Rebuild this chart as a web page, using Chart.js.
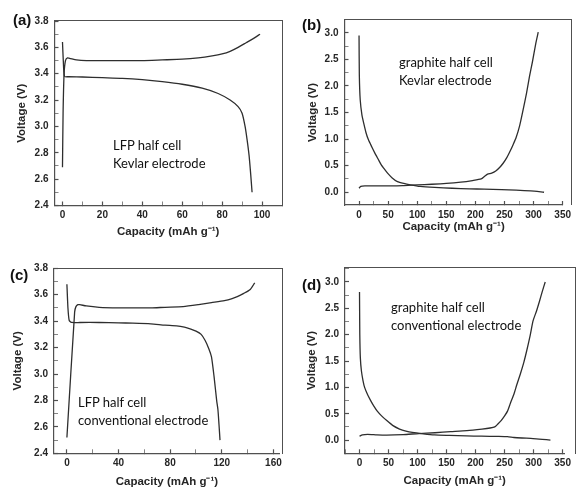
<!DOCTYPE html>
<html>
<head>
<meta charset="utf-8">
<script src="https://cdn.jsdelivr.net/npm/chart.js@4/dist/chart.umd.min.js"></script>
<style>
  body { margin: 0; background: #fff; }
  #page { position: relative; width: 579px; height: 488px; overflow: hidden; background: #fff; }
  canvas { position: absolute; }
  .tag { position: absolute; font: bold 15px "Liberation Sans", Arial, sans-serif; color: #111; line-height: 1; }
  .note { position: absolute; font: 13px Lato, "Open Sans", sans-serif; color: #111; line-height: 18px; white-space: nowrap; }
  .frame { position: absolute; box-sizing: border-box; border-top: 1px solid #505050; border-right: 1px solid #505050; pointer-events: none; }
</style>
</head>
<body>
<div id="page">
  <canvas id="ga" width="290" height="244" style="left:0;top:0"></canvas>
  <canvas id="gb" width="289" height="244" style="left:290px;top:0"></canvas>
  <canvas id="gc" width="290" height="244" style="left:0;top:244px"></canvas>
  <canvas id="gd" width="289" height="244" style="left:290px;top:244px"></canvas>

  <div class="frame" style="left:54px;top:20px;width:229px;height:186px"></div>
  <div class="frame" style="left:344px;top:19px;width:228px;height:186px"></div>
  <div class="frame" style="left:54px;top:268px;width:229px;height:186px"></div>
  <div class="frame" style="left:345px;top:267px;width:231px;height:187px"></div>

  <div class="tag" style="left:13px;top:12px">(a)</div>
  <div class="tag" style="left:302px;top:17px">(b)</div>
  <div class="tag" style="left:10px;top:267px">(c)</div>
  <div class="tag" style="left:302px;top:277px">(d)</div>

  <div class="note" style="left:113px;top:136px">LFP half cell<br>Kevlar electrode</div>
  <div class="note" style="left:399px;top:53px">graphite half cell<br>Kevlar electrode</div>
  <div class="note" style="left:78px;top:393px">LFP half cell<br>conventional electrode</div>
  <div class="note" style="left:391px;top:298px">graphite half cell<br>conventional electrode</div>
</div>
<script>
// (a) LFP half cell, Kevlar electrode
var aChargeCap = [0, 0.3, 0.8, 1.5, 2.5, 4, 7, 12, 20, 30, 40, 50, 60, 68, 75, 80, 84, 88, 92, 96, 99];
var aChargeV = [2.69, 3.1, 3.40, 3.50, 3.52, 3.515, 3.505, 3.50, 3.50, 3.50, 3.50, 3.505, 3.51, 3.52, 3.535, 3.55, 3.57, 3.60, 3.635, 3.67, 3.70];
var aDischCap = [0, 0.4, 1, 3, 10, 20, 30, 40, 50, 60, 70, 78, 84, 88, 90, 91.5, 92.5, 93.5, 94.3, 95];
var aDischV = [3.64, 3.50, 3.38, 3.377, 3.375, 3.37, 3.365, 3.355, 3.34, 3.32, 3.29, 3.25, 3.20, 3.15, 3.10, 3.0, 2.9, 2.78, 2.64, 2.5];

// (b) graphite half cell, Kevlar electrode
var bDischCap = [0, 0.5, 2, 5, 8, 12, 16, 22, 27, 33, 38, 44, 49, 57, 66, 77, 88, 105, 130, 160, 190, 215, 245, 270, 295, 318];
var bDischV = [2.95, 2.2, 1.74, 1.45, 1.3, 1.12, 0.99, 0.85, 0.74, 0.62, 0.52, 0.43, 0.36, 0.27, 0.20, 0.165, 0.14, 0.11, 0.09, 0.075, 0.065, 0.057, 0.048, 0.04, 0.025, 0.0];
var bChargeCap = [0, 3, 10, 30, 50, 75, 100, 125, 150, 175, 195, 210, 216, 221, 228, 235, 242, 248, 254, 260, 265, 270, 276, 282, 288, 293, 298, 304, 308];
var bChargeV = [0.075, 0.11, 0.12, 0.12, 0.12, 0.125, 0.14, 0.15, 0.165, 0.19, 0.22, 0.25, 0.30, 0.34, 0.36, 0.40, 0.47, 0.55, 0.65, 0.78, 0.90, 1.03, 1.25, 1.55, 1.87, 2.18, 2.45, 2.81, 3.01];

// (c) LFP half cell, conventional electrode
var cChargeCap = [0, 6, 7, 8.5, 10, 15, 25, 40, 51, 65, 76, 90, 102, 112, 122, 128, 132, 137, 142, 145.5];
var cChargeV = [2.52, 3.47, 3.51, 3.525, 3.525, 3.515, 3.505, 3.50, 3.50, 3.50, 3.505, 3.51, 3.525, 3.54, 3.555, 3.57, 3.585, 3.61, 3.64, 3.69];
var cDischCap = [0, 0.8, 1.8, 3.8, 10, 25, 40, 51, 65, 76, 85, 91, 96, 100, 104, 107, 110, 112, 114, 116, 117, 117.8, 118.6];
var cDischV = [3.68, 3.5, 3.405, 3.39, 3.39, 3.39, 3.387, 3.385, 3.38, 3.37, 3.365, 3.355, 3.34, 3.325, 3.30, 3.255, 3.19, 3.13, 2.98, 2.80, 2.73, 2.62, 2.5];

// (d) graphite half cell, conventional electrode
var dDischCap = [0, 0.5, 1.5, 3.3, 6, 8.8, 14, 19.7, 25, 30.6, 38, 47, 57, 69, 80, 91, 110, 129, 155, 184, 210, 239, 255, 266, 280, 299, 315, 329];
var dDischV = [2.81, 2.0, 1.55, 1.31, 1.13, 1.0, 0.86, 0.74, 0.64, 0.55, 0.46, 0.37, 0.28, 0.21, 0.17, 0.145, 0.12, 0.10, 0.09, 0.08, 0.075, 0.07, 0.065, 0.05, 0.04, 0.03, 0.015, 0.0];
var dChargeCap = [0, 5, 14, 30, 47, 75, 102, 130, 157, 185, 211, 225, 233, 238, 244, 250, 255, 260, 266, 271, 277, 283, 288, 294, 299, 305, 310, 315, 320];
var dChargeV = [0.075, 0.10, 0.11, 0.10, 0.095, 0.105, 0.125, 0.14, 0.16, 0.18, 0.21, 0.23, 0.25, 0.30, 0.37, 0.46, 0.55, 0.70, 0.87, 1.05, 1.25, 1.47, 1.69, 1.98, 2.26, 2.45, 2.63, 2.82, 3.0];

// tick labels
var lfpCapTicks = [0, 20, 40, 60, 80, 100];
var lfpConvCapTicks = [0, 40, 80, 120, 160];
var graphiteCapTicks = [0, 50, 100, 150, 200, 250, 300, 350];
var lfpVoltTicks = [2.4, 2.6, 2.8, 3.0, 3.2, 3.4, 3.6, 3.8];
var graphiteVoltTicks = [0.0, 0.5, 1.0, 1.5, 2.0, 2.5, 3.0];

var LINE = '#2e2e2e';
var TXT = '#262626';
var AXIS = '#505050';
var FONT = '"Liberation Sans", Arial, sans-serif';

function pts(xs, ys) {
  return xs.map(function (x, i) { return { x: x, y: ys[i] }; });
}

// major ticks from the list plus a minor tick halfway between them
function withMinor(list, min, max) {
  var half = (list[1] - list[0]) / 2, out = [];
  for (var i = Math.ceil(min / half - 1e-6); i <= Math.floor(max / half + 1e-6); i++) {
    var v = Math.round(i * half * 1000) / 1000;
    out.push({ value: v, minorT: i % 2 !== 0 });
  }
  return out;
}

function tickW(c) { return c.tick && c.tick.minorT ? 0.7 : 1.2; }

function gridOpts() {
  return {
    display: true,
    drawOnChartArea: false,
    drawTicks: true,
    tickLength: -4,
    tickColor: AXIS,
    tickWidth: tickW
  };
}

function panel(id, p) {
  var series = p.series.map(function (s) {
    return {
      data: pts(s[0], s[1]),
      borderColor: LINE,
      borderWidth: 1.3,
      pointRadius: 0,
      tension: 0.2,
      fill: false
    };
  });
  return new Chart(document.getElementById(id), {
    type: 'line',
    data: { datasets: series },
    options: {
      responsive: false,
      animation: false,
      events: [],
      layout: { padding: { top: p.padTop, right: p.padRight, left: 0, bottom: 0 } },
      plugins: {
        legend: { display: false },
        tooltip: { enabled: false }
      },
      scales: {
        x: {
          type: 'linear',
          position: 'bottom',
          min: p.xMin, max: p.xMax,
          grid: gridOpts(),
          border: { display: true, color: AXIS, width: 1.2 },
          afterBuildTicks: function (s) { s.ticks = withMinor(p.xTicks, p.xMin, p.xMax); },
          afterFit: function (s) { s.height = p.xAxisH; },
          ticks: {
            padding: 8,
            autoSkip: false,
            maxRotation: 0,
            color: TXT,
            font: { family: FONT, size: 10, weight: 'bold' },
            callback: function (v, i, t) { return t[i].minorT ? '' : String(v); }
          },
          title: {
            display: true,
            text: 'Capacity (mAh g\u207B\u00B9)',
            color: TXT,
            padding: { top: 0, bottom: p.xTitlePad },
            font: { family: FONT, size: 11.5, weight: 'bold', lineHeight: 1 }
          }
        },
        y: {
          type: 'linear',
          position: 'left',
          min: p.yMin, max: p.yMax,
          grid: gridOpts(),
          border: { display: true, color: AXIS, width: 1.2 },
          afterBuildTicks: function (s) { s.ticks = withMinor(p.yTicks, p.yMin, p.yMax); },
          afterFit: function (s) { s.width = p.yAxisW; },
          ticks: {
            padding: 10,
            autoSkip: false,
            color: TXT,
            font: { family: FONT, size: 10, weight: 'bold' },
            callback: function (v, i, t) { return t[i].minorT ? '' : Number(v).toFixed(1); }
          },
          title: {
            display: true,
            text: 'Voltage (V)',
            color: TXT,
            padding: { top: p.yTitlePad, bottom: 0 },
            font: { family: FONT, size: 11.5, weight: 'bold', lineHeight: 1 }
          }
        }
      }
    }
  });
}

panel('ga', {
  series: [[aChargeCap, aChargeV], [aDischCap, aDischV]],
  xMin: -4, xMax: 110, yMin: 2.4, yMax: 3.8,
  xTicks: lfpCapTicks, yTicks: lfpVoltTicks,
  padTop: 21, padRight: 7, yAxisW: 54.5, xAxisH: 38.5,
  yTitlePad: 16, xTitlePad: 6.5
});
panel('gb', {
  series: [[bDischCap, bDischV], [bChargeCap, bChargeV]],
  xMin: -25, xMax: 350, yMin: -0.24, yMax: 3.24,
  xTicks: graphiteCapTicks, yTicks: graphiteVoltTicks,
  padTop: 20, padRight: 7.5, yAxisW: 54.5, xAxisH: 39,
  yTitlePad: 17.2, xTitlePad: 11.5
});
panel('gc', {
  series: [[cChargeCap, cChargeV], [cDischCap, cDischV]],
  xMin: -10, xMax: 165, yMin: 2.4, yMax: 3.8,
  xTicks: lfpConvCapTicks, yTicks: lfpVoltTicks,
  padTop: 24.3, padRight: 7.3, yAxisW: 54, xAxisH: 34.7,
  yTitlePad: 12.5, xTitlePad: 0.8
});
panel('gd', {
  series: [[dDischCap, dDischV], [dChargeCap, dChargeV]],
  xMin: -25, xMax: 353, yMin: -0.25, yMax: 3.27,
  xTicks: graphiteCapTicks, yTicks: graphiteVoltTicks,
  padTop: 23.7, padRight: 3.3, yAxisW: 55, xAxisH: 34.7,
  yTitlePad: 16.5, xTitlePad: 1
});
</script>
</body>
</html>
